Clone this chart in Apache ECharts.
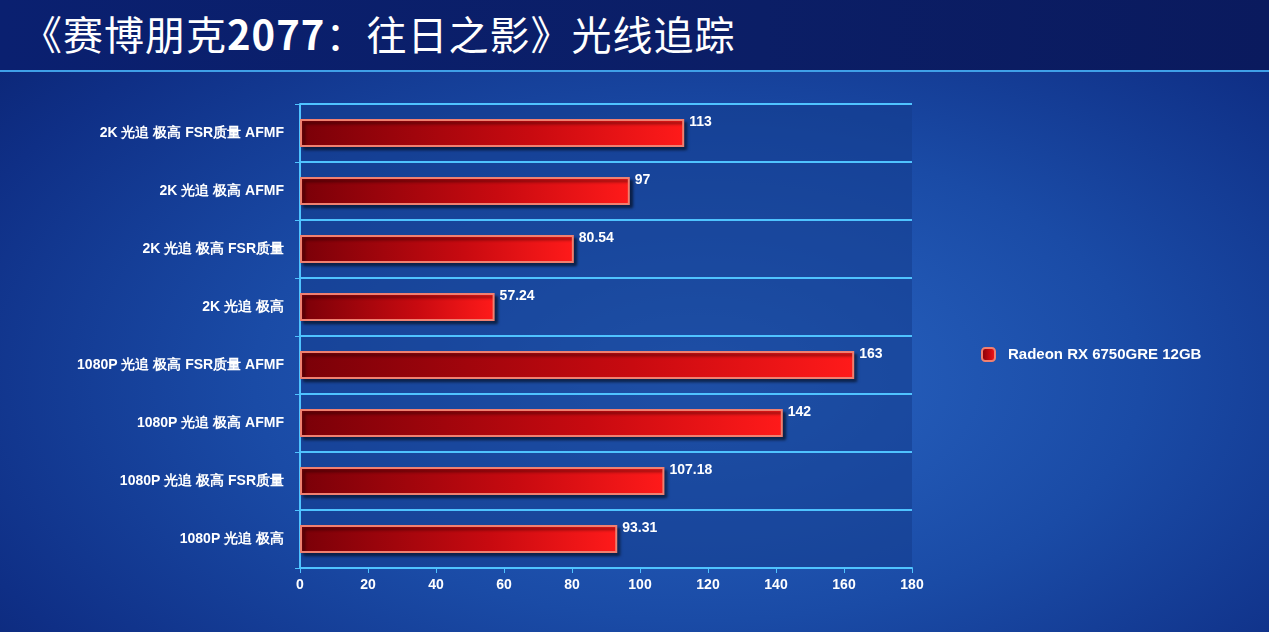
<!DOCTYPE html>
<html>
<head>
<meta charset="utf-8">
<script src="https://cdn.jsdelivr.net/npm/echarts@6/dist/echarts.min.js"></script>
<style>
  html, body { margin: 0; padding: 0; }
  body {
    width: 1269px; height: 632px; overflow: hidden;
    background: radial-gradient(ellipse at 55% 60%, #2a66c4 0%, #1a4ba6 45%, #0f2f86 80%, #0a2270 100%);
    font-family: "Noto Sans CJK SC", "Liberation Sans", sans-serif;
  }
  #header {
    position: absolute; left: 0; top: 0; width: 1269px; height: 70px;
    background: linear-gradient(to right, #0a2070, #0b1e66 60%, #0a1a5e);
    border-bottom: 2px solid #3fa0e8;
  }
  #title {
    position: absolute; left: 22px; top: 4px; color: #fff;
    font-size: 40px; letter-spacing: 1px;
  }
  #container { position: absolute; left: 0; top: 0; width: 1269px; height: 632px; }
</style>
</head>
<body>
<div id="header"><div id="title">《赛博朋克<b>2077</b>：往日之影》光线追踪</div></div>
<div id="container"></div>
<script>
// categories from bottom to top
const categories = [
    '1080P 光追 极高',
    '1080P 光追 极高 FSR质量',
    '1080P 光追 极高 AFMF',
    '1080P 光追 极高 FSR质量 AFMF',
    '2K 光追 极高',
    '2K 光追 极高 FSR质量',
    '2K 光追 极高 AFMF',
    '2K 光追 极高 FSR质量 AFMF'
];
const fpsValues = [93.31, 107.18, 142, 163, 57.24, 80.54, 97, 113];
const seriesName = 'Radeon RX 6750GRE 12GB';

var chartDom = document.getElementById('container');
var myChart = echarts.init(chartDom);
var option;
option = {
    grid: { left: 300, right: 357, top: 104, bottom: 64 },
    legend: {
        data: [seriesName],
        orient: 'vertical',
        left: 976,
        top: 342,
        itemWidth: 13,
        itemHeight: 13,
        itemGap: 10,
        textStyle: { color: '#fff', fontWeight: 'bold', fontSize: 15, padding: [0, 0, 0, 8] }
    },
    xAxis: {
        type: 'value',
        min: 0,
        max: 180,
        interval: 20,
        axisLine: { show: true, lineStyle: { color: '#4fc3ff', width: 2 } },
        axisTick: { show: true, length: 5, lineStyle: { color: '#4fc3ff' } },
        axisLabel: { color: '#fff', fontWeight: 'bold', fontSize: 14, margin: 10 },
        splitLine: { show: false }
    },
    yAxis: {
        type: 'category',
        data: categories,
        axisLine: { show: true, lineStyle: { color: '#4fc3ff', width: 2 } },
        axisTick: { show: true, length: 5, lineStyle: { color: '#4fc3ff' } },
        axisLabel: { color: '#fff', fontWeight: 'bold', fontSize: 14, margin: 16 },
        splitLine: { show: true, lineStyle: { color: '#4fc3ff', width: 2 } },
        splitArea: { show: true, areaStyle: { color: ['rgba(20,60,140,0.55)', 'rgba(20,60,140,0.55)'] } }
    },
    series: [
        {
            name: seriesName,
            type: 'bar',
            data: fpsValues,
            barWidth: 28,
            itemStyle: {
                color: new echarts.graphic.LinearGradient(0, 0, 1, 0, [
                    { offset: 0, color: '#7a0008' },
                    { offset: 0.6, color: '#c80a10' },
                    { offset: 1, color: '#ff1a1a' }
                ]),
                borderColor: '#f08070',
                borderWidth: 2,
                shadowColor: 'rgba(0,0,0,0.5)',
                shadowOffsetX: 3,
                shadowOffsetY: 3,
                shadowBlur: 3
            },
            label: {
                show: true,
                position: 'right',
                offset: [0, -11],
                color: '#fff',
                fontWeight: 'bold',
                fontSize: 14
            }
        }
    ]
};
option && myChart.setOption(option);
</script>
</body>
</html>
